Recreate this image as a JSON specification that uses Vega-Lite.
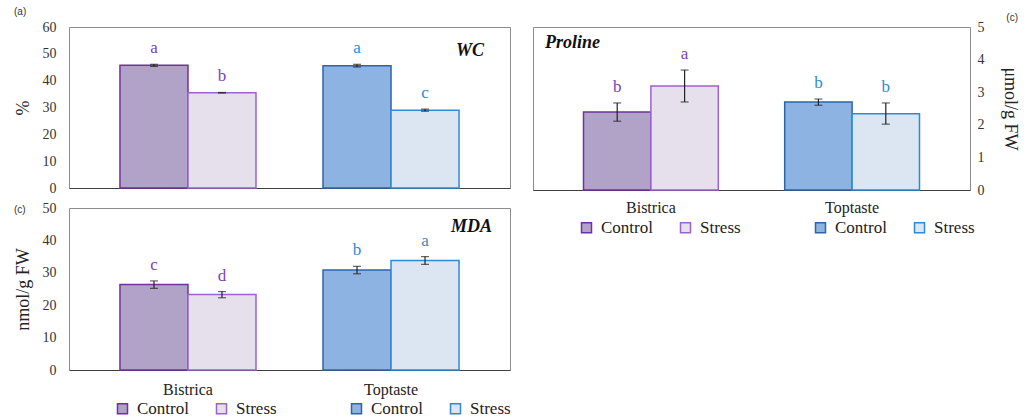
{
  "$schema": "https://vega.github.io/schema/vega-lite/v6.json",
  "padding": {"left": 13, "top": 6, "right": 0, "bottom": 0},
  "background": "white",
  "config": {
    "font": "Liberation Serif",
    "view": {"stroke": "#8c8c8c", "strokeWidth": 1},
    "axis": {"grid": false, "labelFont": "Liberation Serif", "titleFont": "Liberation Serif", "labelColor": "#333", "titleColor": "#222", "titleFontWeight": "normal", "labelOverlap": false},
    "legend": {"labelFont": "Liberation Serif"},
    "title": {"font": "Liberation Sans", "fontSize": 10, "fontWeight": "normal", "color": "#333"}
  },
  "datasets": {
    "bars": [
      {"panel": "WC", "cultivar": "Bistrica", "treatment": "Control", "group": "Bistrica Control", "value": 45.7, "lo": 45.3, "hi": 46.1, "letter": "a"},
      {"panel": "WC", "cultivar": "Bistrica", "treatment": "Stress", "group": "Bistrica Stress", "value": 35.5, "lo": 35.4, "hi": 35.6, "letter": "b"},
      {"panel": "WC", "cultivar": "Toptaste", "treatment": "Control", "group": "Toptaste Control", "value": 45.6, "lo": 45.1, "hi": 46.1, "letter": "a"},
      {"panel": "WC", "cultivar": "Toptaste", "treatment": "Stress", "group": "Toptaste Stress", "value": 29.0, "lo": 28.6, "hi": 29.4, "letter": "c"},
      {"panel": "Proline", "cultivar": "Bistrica", "treatment": "Control", "group": "Bistrica Control", "value": 2.39, "lo": 2.11, "hi": 2.67, "letter": "b"},
      {"panel": "Proline", "cultivar": "Bistrica", "treatment": "Stress", "group": "Bistrica Stress", "value": 3.19, "lo": 2.70, "hi": 3.68, "letter": "a"},
      {"panel": "Proline", "cultivar": "Toptaste", "treatment": "Control", "group": "Toptaste Control", "value": 2.70, "lo": 2.60, "hi": 2.79, "letter": "b"},
      {"panel": "Proline", "cultivar": "Toptaste", "treatment": "Stress", "group": "Toptaste Stress", "value": 2.34, "lo": 2.02, "hi": 2.67, "letter": "b"},
      {"panel": "MDA", "cultivar": "Bistrica", "treatment": "Control", "group": "Bistrica Control", "value": 26.4, "lo": 25.2, "hi": 27.5, "letter": "c"},
      {"panel": "MDA", "cultivar": "Bistrica", "treatment": "Stress", "group": "Bistrica Stress", "value": 23.3, "lo": 22.3, "hi": 24.2, "letter": "d"},
      {"panel": "MDA", "cultivar": "Toptaste", "treatment": "Control", "group": "Toptaste Control", "value": 30.9, "lo": 29.7, "hi": 32.0, "letter": "b"},
      {"panel": "MDA", "cultivar": "Toptaste", "treatment": "Stress", "group": "Toptaste Stress", "value": 33.8, "lo": 32.6, "hi": 35.0, "letter": "a"}
    ]
  },
  "resolve": {"scale": {"x": "independent", "y": "independent", "fill": "independent", "stroke": "independent", "color": "independent", "xOffset": "independent"}, "legend": {"fill": "independent", "stroke": "independent", "color": "independent"}},
  "spacing": 20,
  "hconcat": [
    {
      "resolve": {"scale": {"x": "independent", "y": "independent", "fill": "independent", "stroke": "independent", "color": "independent", "xOffset": "independent"}, "legend": {"fill": "independent", "stroke": "independent", "color": "independent"}},
      "spacing": 4,
      "vconcat": [
        {
          "title": {"text": "(a)", "anchor": "start", "frame": "bounds", "offset": 3},
          "width": 441, "height": 161,
          "data": {"name": "bars"},
          "transform": [{"filter": "datum.panel == 'WC'"}],
          "encoding": {
            "x": {"field": "cultivar", "type": "nominal", "scale": {"paddingInner": 0.33, "paddingOuter": 0.251}, "axis": {"labels": false, "ticks": false, "title": null, "domainColor": "#404040"}}
          },
          "layer": [
            {
              "mark": {"type": "bar", "strokeWidth": 1.5},
              "encoding": {
                "xOffset": {"field": "treatment", "type": "nominal", "scale": {"paddingInner": 0, "paddingOuter": 0}},
                "y": {"field": "value", "type": "quantitative", "scale": {"domain": [0, 60]}, "axis": {"title": "%", "values": [0, 10, 20, 30, 40, 50, 60], "labelOverlap": false, "ticks": false, "domain": false, "labelFontSize": 14, "labelPadding": 13, "titleFontSize": 18, "titlePadding": 10}},
                "fill": {"field": "group", "type": "nominal", "scale": {"domain": ["Bistrica Control", "Bistrica Stress", "Toptaste Control", "Toptaste Stress"], "range": ["#b1a2c8", "#e5e0ec", "#8db3e2", "#dce6f2"]}, "legend": null},
                "stroke": {"field": "group", "type": "nominal", "scale": {"domain": ["Bistrica Control", "Bistrica Stress", "Toptaste Control", "Toptaste Stress"], "range": ["#7030a0", "#9b62d2", "#2f64a8", "#2e8ad8"]}, "legend": null}
              }
            },
            {
              "mark": {"type": "rule", "color": "#222", "strokeWidth": 1.2},
              "encoding": {"xOffset": {"field": "treatment", "type": "nominal"}, "y": {"field": "lo", "type": "quantitative", "axis": {"title": "%", "values": [0, 10, 20, 30, 40, 50, 60], "labelOverlap": false, "ticks": false, "domain": false, "labelFontSize": 14, "labelPadding": 13, "titleFontSize": 18, "titlePadding": 10}}, "y2": {"field": "hi"}}
            },
            {
              "mark": {"type": "tick", "color": "#222", "size": 8, "thickness": 1.2},
              "encoding": {"xOffset": {"field": "treatment", "type": "nominal"}, "y": {"field": "lo", "type": "quantitative", "axis": {"title": "%", "values": [0, 10, 20, 30, 40, 50, 60], "labelOverlap": false, "ticks": false, "domain": false, "labelFontSize": 14, "labelPadding": 13, "titleFontSize": 18, "titlePadding": 10}}}
            },
            {
              "mark": {"type": "tick", "color": "#222", "size": 8, "thickness": 1.2},
              "encoding": {"xOffset": {"field": "treatment", "type": "nominal"}, "y": {"field": "hi", "type": "quantitative", "axis": {"title": "%", "values": [0, 10, 20, 30, 40, 50, 60], "labelOverlap": false, "ticks": false, "domain": false, "labelFontSize": 14, "labelPadding": 13, "titleFontSize": 18, "titlePadding": 10}}}
            },
            {
              "mark": {"type": "text", "baseline": "alphabetic", "dy": -11, "font": "Liberation Serif", "fontSize": 17},
              "encoding": {"xOffset": {"field": "treatment", "type": "nominal"}, "y": {"field": "hi", "type": "quantitative", "axis": {"title": "%", "values": [0, 10, 20, 30, 40, 50, 60], "labelOverlap": false, "ticks": false, "domain": false, "labelFontSize": 14, "labelPadding": 13, "titleFontSize": 18, "titlePadding": 10}}, "text": {"field": "letter"}, "color": {"field": "cultivar", "type": "nominal", "scale": {"domain": ["Bistrica", "Toptaste"], "range": ["#7b3fbf", "#2e8ad8"]}, "legend": null}}
            },
            {
              "data": {"values": [{"name": "WC"}]},
              "mark": {"type": "text", "align": "right", "baseline": "alphabetic", "dx": 93, "font": "Liberation Serif", "fontSize": 18, "fontStyle": "italic", "fontWeight": "bold", "color": "#111"},
              "encoding": {"x": {"datum": "Toptaste"}, "y": {"datum": 49.3, "type": "quantitative", "axis": {"title": "%", "values": [0, 10, 20, 30, 40, 50, 60], "labelOverlap": false, "ticks": false, "domain": false, "labelFontSize": 14, "labelPadding": 13, "titleFontSize": 18, "titlePadding": 10}}, "text": {"field": "name"}}
            }
          ]
        },
        {
          "title": {"text": "(c)", "anchor": "start", "frame": "bounds", "offset": -14},
          "width": 441, "height": 162,
          "data": {"name": "bars"},
          "transform": [{"filter": "datum.panel == 'MDA'"}],
          "encoding": {
            "x": {"field": "cultivar", "type": "nominal", "scale": {"paddingInner": 0.33, "paddingOuter": 0.251}, "axis": {"labelAngle": 0, "ticks": false, "title": null, "domainColor": "#404040", "labelFontSize": 16, "labelColor": "#222", "labelPadding": 11}}
          },
          "layer": [
            {
              "mark": {"type": "bar", "strokeWidth": 1.5},
              "encoding": {
                "xOffset": {"field": "treatment", "type": "nominal", "scale": {"paddingInner": 0, "paddingOuter": 0}},
                "y": {"field": "value", "type": "quantitative", "scale": {"domain": [0, 50]}, "axis": {"title": "nmol/g FW", "values": [0, 10, 20, 30, 40, 50], "labelOverlap": false, "ticks": false, "domain": false, "labelFontSize": 14, "labelPadding": 13, "titleFontSize": 18, "titlePadding": 10}},
                "fill": {"field": "group", "type": "nominal", "scale": {"domain": ["Bistrica Control", "Bistrica Stress", "gap", "Toptaste Control", "Toptaste Stress"], "range": ["#b1a2c8", "#e5e0ec", "transparent", "#8db3e2", "#dce6f2"]},
                  "legend": {"orient": "none", "legendX": 45, "legendY": 192, "direction": "horizontal", "columns": 5, "title": null, "symbolType": "square", "symbolSize": 100, "symbolStrokeWidth": 1.5, "labelFont": "Liberation Serif", "labelFontSize": 17, "labelColor": "#222", "columnPadding": 24, "labelOffset": 6, "padding": 0, "labelExpr": "datum.label == 'gap' ? '' : split(datum.label, ' ')[1]"}},
                "stroke": {"field": "group", "type": "nominal", "scale": {"domain": ["Bistrica Control", "Bistrica Stress", "gap", "Toptaste Control", "Toptaste Stress"], "range": ["#7030a0", "#9b62d2", "transparent", "#2f64a8", "#2e8ad8"]},
                  "legend": {"orient": "none", "legendX": 45, "legendY": 192, "direction": "horizontal", "columns": 5, "title": null, "symbolType": "square", "symbolSize": 100, "symbolStrokeWidth": 1.5, "labelFont": "Liberation Serif", "labelFontSize": 17, "labelColor": "#222", "columnPadding": 24, "labelOffset": 6, "padding": 0, "labelExpr": "datum.label == 'gap' ? '' : split(datum.label, ' ')[1]"}}
              }
            },
            {
              "mark": {"type": "rule", "color": "#222", "strokeWidth": 1.2},
              "encoding": {"xOffset": {"field": "treatment", "type": "nominal"}, "y": {"field": "lo", "type": "quantitative", "axis": {"title": "nmol/g FW", "values": [0, 10, 20, 30, 40, 50], "labelOverlap": false, "ticks": false, "domain": false, "labelFontSize": 14, "labelPadding": 13, "titleFontSize": 18, "titlePadding": 10}}, "y2": {"field": "hi"}}
            },
            {
              "mark": {"type": "tick", "color": "#222", "size": 8, "thickness": 1.2},
              "encoding": {"xOffset": {"field": "treatment", "type": "nominal"}, "y": {"field": "lo", "type": "quantitative", "axis": {"title": "nmol/g FW", "values": [0, 10, 20, 30, 40, 50], "labelOverlap": false, "ticks": false, "domain": false, "labelFontSize": 14, "labelPadding": 13, "titleFontSize": 18, "titlePadding": 10}}}
            },
            {
              "mark": {"type": "tick", "color": "#222", "size": 8, "thickness": 1.2},
              "encoding": {"xOffset": {"field": "treatment", "type": "nominal"}, "y": {"field": "hi", "type": "quantitative", "axis": {"title": "nmol/g FW", "values": [0, 10, 20, 30, 40, 50], "labelOverlap": false, "ticks": false, "domain": false, "labelFontSize": 14, "labelPadding": 13, "titleFontSize": 18, "titlePadding": 10}}}
            },
            {
              "mark": {"type": "text", "baseline": "alphabetic", "dy": -11, "font": "Liberation Serif", "fontSize": 17},
              "encoding": {"xOffset": {"field": "treatment", "type": "nominal"}, "y": {"field": "hi", "type": "quantitative", "axis": {"title": "nmol/g FW", "values": [0, 10, 20, 30, 40, 50], "labelOverlap": false, "ticks": false, "domain": false, "labelFontSize": 14, "labelPadding": 13, "titleFontSize": 18, "titlePadding": 10}}, "text": {"field": "letter"}, "color": {"field": "cultivar", "type": "nominal", "scale": {"domain": ["Bistrica", "Toptaste"], "range": ["#7b3fbf", "#2e8ad8"]}, "legend": null}}
            },
            {
              "data": {"values": [{"name": "MDA"}]},
              "mark": {"type": "text", "align": "right", "baseline": "alphabetic", "dx": 101, "font": "Liberation Serif", "fontSize": 18, "fontStyle": "italic", "fontWeight": "bold", "color": "#111"},
              "encoding": {"x": {"datum": "Toptaste"}, "y": {"datum": 42.6, "type": "quantitative", "axis": {"title": "nmol/g FW", "values": [0, 10, 20, 30, 40, 50], "labelOverlap": false, "ticks": false, "domain": false, "labelFontSize": 14, "labelPadding": 13, "titleFontSize": 18, "titlePadding": 10}}, "text": {"field": "name"}}
            }
          ]
        }
      ]
    },
    {
      "resolve": {"scale": {"x": "independent", "y": "independent", "fill": "independent", "stroke": "independent", "color": "independent", "xOffset": "independent"}, "legend": {"fill": "independent", "stroke": "independent", "color": "independent"}},
      "vconcat": [
        {
          "title": {"text": "(c)", "anchor": "end", "frame": "bounds", "offset": -3},
          "width": 437, "height": 163,
          "data": {"name": "bars"},
          "transform": [{"filter": "datum.panel == 'Proline'"}],
          "encoding": {
            "x": {"field": "cultivar", "type": "nominal", "scale": {"paddingInner": 0.33, "paddingOuter": 0.251}, "axis": {"labelAngle": 0, "ticks": false, "title": null, "domainColor": "#404040", "labelFontSize": 16, "labelColor": "#222", "labelPadding": 9}}
          },
          "layer": [
            {
              "mark": {"type": "bar", "strokeWidth": 1.5},
              "encoding": {
                "xOffset": {"field": "treatment", "type": "nominal", "scale": {"paddingInner": 0, "paddingOuter": 0}},
                "y": {"field": "value", "type": "quantitative", "scale": {"domain": [0, 5]}, "axis": {"orient": "right", "title": "μmol/g FW", "values": [0, 1, 2, 3, 4, 5], "labelOverlap": false, "ticks": false, "domain": false, "labelFontSize": 14, "labelPadding": 7, "titleFontSize": 18, "titlePadding": 16}},
                "fill": {"field": "group", "type": "nominal", "scale": {"domain": ["Bistrica Control", "Bistrica Stress", "gap", "Toptaste Control", "Toptaste Stress"], "range": ["#b1a2c8", "#e5e0ec", "transparent", "#8db3e2", "#dce6f2"]},
                  "legend": {"orient": "none", "legendX": 45, "legendY": 192, "direction": "horizontal", "columns": 5, "title": null, "symbolType": "square", "symbolSize": 100, "symbolStrokeWidth": 1.5, "labelFont": "Liberation Serif", "labelFontSize": 17, "labelColor": "#222", "columnPadding": 24, "labelOffset": 6, "padding": 0, "labelExpr": "datum.label == 'gap' ? '' : split(datum.label, ' ')[1]"}},
                "stroke": {"field": "group", "type": "nominal", "scale": {"domain": ["Bistrica Control", "Bistrica Stress", "gap", "Toptaste Control", "Toptaste Stress"], "range": ["#7030a0", "#9b62d2", "transparent", "#2f64a8", "#2e8ad8"]},
                  "legend": {"orient": "none", "legendX": 45, "legendY": 192, "direction": "horizontal", "columns": 5, "title": null, "symbolType": "square", "symbolSize": 100, "symbolStrokeWidth": 1.5, "labelFont": "Liberation Serif", "labelFontSize": 17, "labelColor": "#222", "columnPadding": 24, "labelOffset": 6, "padding": 0, "labelExpr": "datum.label == 'gap' ? '' : split(datum.label, ' ')[1]"}}
              }
            },
            {
              "mark": {"type": "rule", "color": "#222", "strokeWidth": 1.2},
              "encoding": {"xOffset": {"field": "treatment", "type": "nominal"}, "y": {"field": "lo", "type": "quantitative", "axis": {"orient": "right", "title": "μmol/g FW", "values": [0, 1, 2, 3, 4, 5], "labelOverlap": false, "ticks": false, "domain": false, "labelFontSize": 14, "labelPadding": 7, "titleFontSize": 18, "titlePadding": 16}}, "y2": {"field": "hi"}}
            },
            {
              "mark": {"type": "tick", "color": "#222", "size": 8, "thickness": 1.2},
              "encoding": {"xOffset": {"field": "treatment", "type": "nominal"}, "y": {"field": "lo", "type": "quantitative", "axis": {"orient": "right", "title": "μmol/g FW", "values": [0, 1, 2, 3, 4, 5], "labelOverlap": false, "ticks": false, "domain": false, "labelFontSize": 14, "labelPadding": 7, "titleFontSize": 18, "titlePadding": 16}}}
            },
            {
              "mark": {"type": "tick", "color": "#222", "size": 8, "thickness": 1.2},
              "encoding": {"xOffset": {"field": "treatment", "type": "nominal"}, "y": {"field": "hi", "type": "quantitative", "axis": {"orient": "right", "title": "μmol/g FW", "values": [0, 1, 2, 3, 4, 5], "labelOverlap": false, "ticks": false, "domain": false, "labelFontSize": 14, "labelPadding": 7, "titleFontSize": 18, "titlePadding": 16}}}
            },
            {
              "mark": {"type": "text", "baseline": "alphabetic", "dy": -11, "font": "Liberation Serif", "fontSize": 17},
              "encoding": {"xOffset": {"field": "treatment", "type": "nominal"}, "y": {"field": "hi", "type": "quantitative", "axis": {"orient": "right", "title": "μmol/g FW", "values": [0, 1, 2, 3, 4, 5], "labelOverlap": false, "ticks": false, "domain": false, "labelFontSize": 14, "labelPadding": 7, "titleFontSize": 18, "titlePadding": 16}}, "text": {"field": "letter"}, "color": {"field": "cultivar", "type": "nominal", "scale": {"domain": ["Bistrica", "Toptaste"], "range": ["#7b3fbf", "#2e8ad8"]}, "legend": null}}
            },
            {
              "data": {"values": [{"name": "Proline"}]},
              "mark": {"type": "text", "align": "left", "baseline": "alphabetic", "dx": -106, "font": "Liberation Serif", "fontSize": 18, "fontStyle": "italic", "fontWeight": "bold", "color": "#111"},
              "encoding": {"x": {"datum": "Bistrica"}, "y": {"datum": 4.37, "type": "quantitative", "axis": {"orient": "right", "title": "μmol/g FW", "values": [0, 1, 2, 3, 4, 5], "labelOverlap": false, "ticks": false, "domain": false, "labelFontSize": 14, "labelPadding": 7, "titleFontSize": 18, "titlePadding": 16}}, "text": {"field": "name"}}
            }
          ]
        }
      ]
    }
  ]
}
